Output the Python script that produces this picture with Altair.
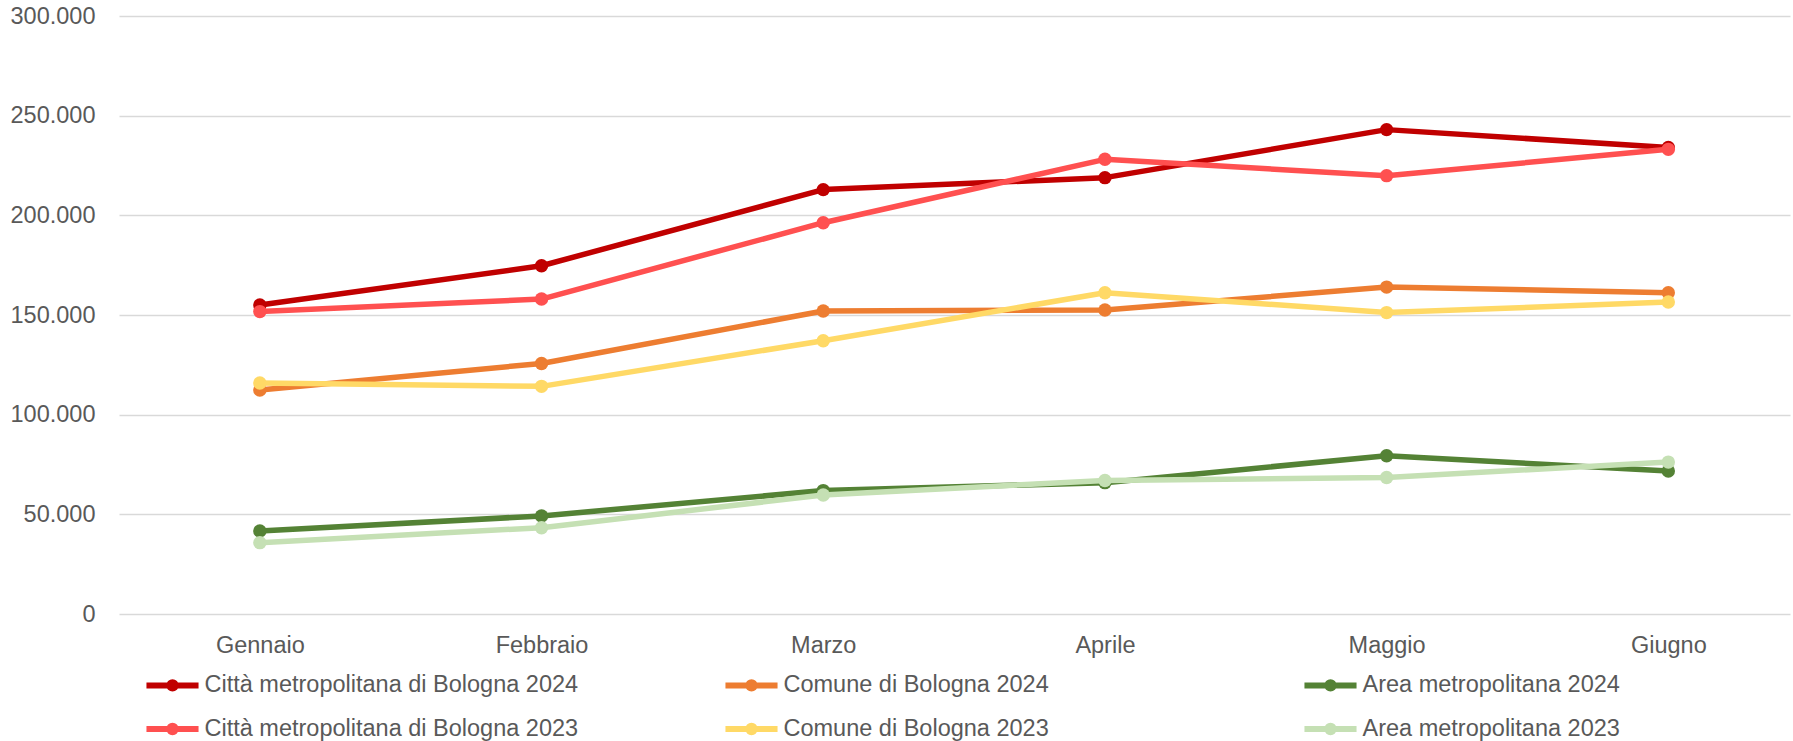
import json
import altair as alt
import pandas as pd

months = ["Gennaio", "Febbraio", "Marzo", "Aprile", "Maggio", "Giugno"]

# drawing order (2024 series below, 2023 series on top)
series_names = [
    "Città metropolitana di Bologna 2024",
    "Comune di Bologna 2024",
    "Area metropolitana 2024",
    "Città metropolitana di Bologna 2023",
    "Comune di Bologna 2023",
    "Area metropolitana 2023",
]
# legend order (filled column by column, two rows)
legend_order = [
    "Città metropolitana di Bologna 2024",
    "Città metropolitana di Bologna 2023",
    "Comune di Bologna 2024",
    "Comune di Bologna 2023",
    "Area metropolitana 2024",
    "Area metropolitana 2023",
]
legend_colors = ["#C00000", "#FF5050", "#ED7D31", "#FFD966", "#548235", "#C5E0B4"]

citta_2024 = [155000, 174700, 212900, 218900, 243000, 234000]
comune_2024 = [112400, 125700, 152000, 152500, 164000, 161200]
area_2024 = [41600, 49200, 61900, 65900, 79400, 71700]
citta_2023 = [151700, 158000, 196300, 228100, 219900, 233100]
comune_2023 = [115900, 114200, 137100, 161200, 151200, 156500]
area_2023 = [35800, 43300, 59700, 67000, 68500, 76200]

y_ticks = [0, 50000, 100000, 150000, 200000, 250000, 300000]

all_values = [citta_2024, comune_2024, area_2024, citta_2023, comune_2023, area_2023]
rows = []
for name, vals in zip(series_names, all_values):
    for i, (m, v) in enumerate(zip(months, vals)):
        rows.append({"Serie": name, "Mese": m, "idx": i, "Valore": v})
df = pd.DataFrame(rows)

FONT = "Liberation Sans"
TXT = "#595959"
month_expr = json.dumps(months)

# line through a dot, drawn with the stroke colour of each entry
legend_path = (
    "M-2.17,0 H2.17 "
    "M-0.27,0 A0.27,0.27 0 1,1 0.27,0 A0.27,0.27 0 1,1 -0.27,0"
)

x_enc = alt.X(
    "idx:Q",
    scale=alt.Scale(domain=[-0.5, 5.432], nice=False, zero=False),
    axis=alt.Axis(
        title=None, values=list(range(len(months))),
        labelExpr=f"{month_expr}[datum.value]",
        grid=False, domain=False, ticks=False,
        labelFont=FONT, labelFontSize=23.5, labelColor=TXT, labelPadding=19,
    ),
)
y_enc = alt.Y(
    "Valore:Q",
    scale=alt.Scale(domain=[0, 300000], nice=False),
    axis=alt.Axis(
        title=None, values=y_ticks,
        labelExpr="replace(format(datum.value, ','), ',', '.')",
        grid=True, gridColor="#D9D9D9", gridWidth=1.5,
        domain=False, ticks=False,
        labelFont=FONT, labelFontSize=23.5, labelColor=TXT, labelPadding=24,
    ),
)
color_scale = alt.Scale(domain=legend_order, range=legend_colors)
color_enc = alt.Color(
    "Serie:N",
    scale=color_scale,
    legend=alt.Legend(
        title=None, orient="none", legendX=38.5, legendY=654,
        columns=3, gridAlign="all", columnPadding=134, rowPadding=12,
        symbolType=legend_path, symbolSize=576, symbolStrokeWidth=6,
        symbolOpacity=1,
        labelOffset=17, labelFont=FONT, labelFontSize=23.5, labelColor=TXT,
        labelLimit=0, padding=0,
    ),
)

base = alt.Chart(df)
layers = []
for name in series_names:
    sub = base.transform_filter(alt.datum.Serie == name)
    layers.append(
        sub.mark_line(strokeWidth=5.5, strokeCap="round", strokeJoin="round").encode(
            x=x_enc, y=y_enc, color=color_enc
        )
    )
    layers.append(
        sub.mark_point(filled=True, size=180, opacity=1).encode(
            x=x_enc, y=y_enc, color=color_enc
        )
    )

chart = (
    alt.layer(*layers)
    .properties(
        width=1671, height=598, autosize="none",
        padding={"left": 119, "top": 16, "right": 3, "bottom": 127},
        background="white",
    )
    .configure_view(stroke=None)
)

chart.save("out.html", embed_options={"renderer": "svg", "actions": False})
